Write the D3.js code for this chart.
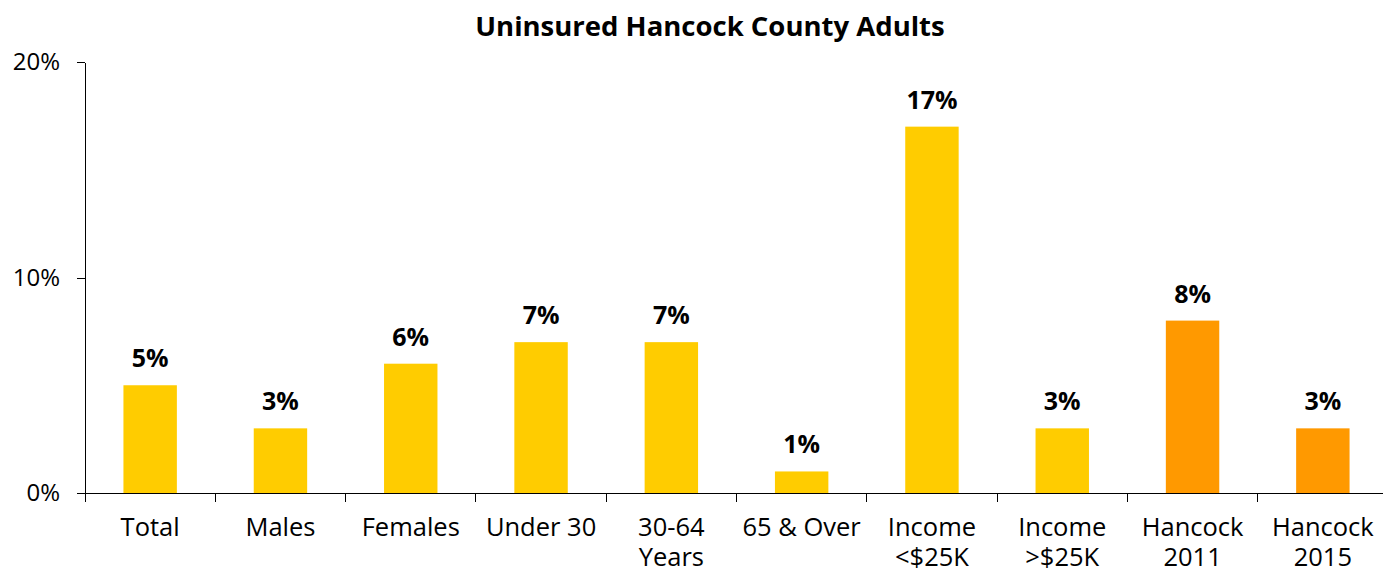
<!DOCTYPE html>
<meta charset="utf-8">
<style>
body { margin: 0; background: #fff; }
text { font-family: "Open Sans", "Noto Sans", sans-serif; fill: #000; }
.axis path, .axis line { stroke: #000; shape-rendering: crispEdges; }
.axis text { font-size: 25.5px; }
.yax text { font-size: 24px; }
.title { font-size: 27.5px; font-weight: bold; }
.val { font-size: 25px; font-weight: bold; }
</style>
<svg width="1383" height="569"></svg>
<script src="https://cdn.jsdelivr.net/npm/d3@7"></script>
<script>

var categories = ["Total", "Males", "Females", "Under 30", "30-64\nYears", "65 & Over",
                  "Income\n<$25K", "Income\n>$25K", "Hancock\n2011", "Hancock\n2015"];
var values = [5, 3, 6, 7, 7, 1, 17, 3, 8, 3];
var colors = ["#FFCC00", "#FFCC00", "#FFCC00", "#FFCC00", "#FFCC00", "#FFCC00",
              "#FFCC00", "#FFCC00", "#FF9900", "#FF9900"];
var yTicks = [0, 10, 20];

var svg = d3.select("svg"),
    plotL = 85, plotR = 1388, plotT = 62, plotB = 493;

var x = d3.scaleBand().domain(categories).range([plotL, plotR]);
var y = d3.scaleLinear().domain([0, 20]).range([plotB, plotT]);

var barW = x.bandwidth() * 0.41;

svg.append("text")
    .attr("class", "title")
    .attr("x", 710)
    .attr("y", 36)
    .attr("text-anchor", "middle")
    .text("Uninsured Hancock County Adults");

svg.selectAll(".bar")
  .data(values)
  .enter().append("rect")
    .attr("class", "bar")
    .attr("x", function(d, i) { return x(categories[i]) + (x.bandwidth() - barW) / 2; })
    .attr("y", function(d) { return y(d); })
    .attr("width", barW)
    .attr("height", function(d) { return plotB - y(d); })
    .attr("fill", function(d, i) { return colors[i]; });

svg.selectAll(".val")
  .data(values)
  .enter().append("text")
    .attr("class", "val")
    .attr("x", function(d, i) { return x(categories[i]) + x.bandwidth() / 2; })
    .attr("y", function(d) { return y(d) - 18; })
    .attr("text-anchor", "middle")
    .text(function(d) { return d + "%"; });

// y axis
var yAxis = svg.append("g")
    .attr("class", "axis yax")
    .attr("transform", "translate(" + plotL + ",0)")
    .call(d3.axisLeft(y).tickValues(yTicks).tickSize(8).tickSizeOuter(0)
      .tickFormat(function(d) { return d + "%"; }));
yAxis.selectAll("text").attr("x", -25);

// x axis with ticks between categories
var xg = svg.append("g")
    .attr("class", "axis")
    .attr("transform", "translate(0," + plotB + ")");
xg.append("line")
    .attr("x1", plotL - 8).attr("x2", plotR)
    .attr("y1", 0).attr("y2", 0);
xg.selectAll(".sep")
  .data(categories)
  .enter().append("line")
    .attr("x1", function(d) { return x(d); })
    .attr("x2", function(d) { return x(d); })
    .attr("y1", 0).attr("y2", 9);

var lbl = xg.selectAll(".lbl")
  .data(categories)
  .enter().append("text")
    .attr("class", "lbl")
    .attr("text-anchor", "middle")
    .attr("transform", function(d) { return "translate(" + (x(d) + x.bandwidth() / 2) + ",43)"; });
lbl.selectAll("tspan")
  .data(function(d) { return d.split("\n"); })
  .enter().append("tspan")
    .attr("x", 0)
    .attr("y", function(d, i) { return i * 30; })
    .text(function(d) { return d; });

</script>
